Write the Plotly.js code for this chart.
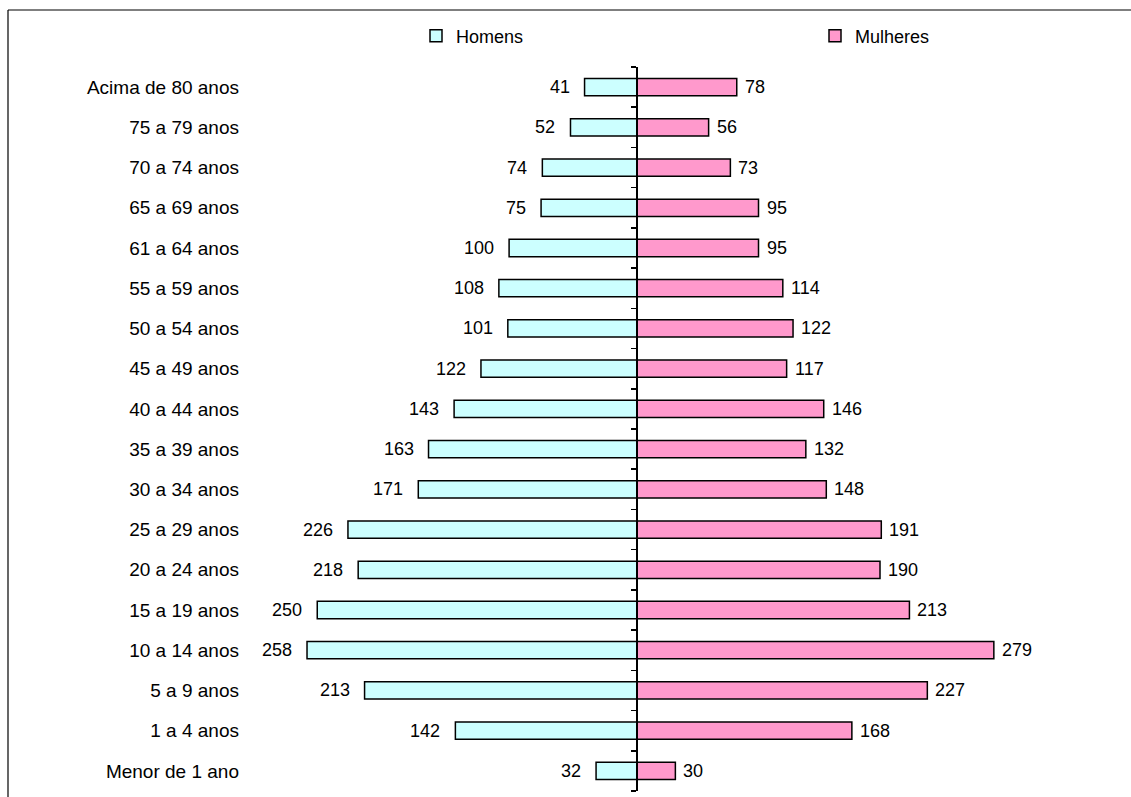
<!DOCTYPE html>
<html>
<head>
<meta charset="utf-8">
<script src="https://cdn.plot.ly/plotly-3.0.1.min.js"></script>
<style>
  html, body { margin: 0; padding: 0; background: #fff; }
  #chart { width: 1131px; height: 797px; }
</style>
</head>
<body>
<div id="chart"></div>
<script>
// ---- data (top to bottom as shown) ----
const categories = [
  "Acima de 80 anos", "75 a 79 anos", "70 a 74 anos", "65 a 69 anos",
  "61 a 64 anos", "55 a 59 anos", "50 a 54 anos", "45 a 49 anos",
  "40 a 44 anos", "35 a 39 anos", "30 a 34 anos", "25 a 29 anos",
  "20 a 24 anos", "15 a 19 anos", "10 a 14 anos", "5 a 9 anos",
  "1 a 4 anos", "Menor de 1 ano"
];
const homens   = [41, 52, 74, 75, 100, 108, 101, 122, 143, 163, 171, 226, 218, 250, 258, 213, 142, 32];
const mulheres = [78, 56, 73, 95, 95, 114, 122, 117, 146, 132, 148, 191, 190, 213, 279, 227, 168, 30];
const seriesNames = ["Homens", "Mulheres"];

// ---- layout geometry (pixels) ----
const W = 1131, H = 797;
const mL = 244, mR = 11, mT = 67, mB = 6;
const plotW = W - mL - mR, plotH = H - mT - mB;
const centerPx = 637, pxPerUnit = 1.279;
const xMin = -(centerPx - mL) / pxPerUnit;
const xMax = (W - mR - centerPx) / pxPerUnit;
const px2paperX = p => (p - mL) / plotW;
const px2paperY = p => (H - mB - p) / plotH;

const fontFam = "Liberation Sans, Arial, sans-serif";

const traces = [
  {
    type: "bar", orientation: "h", name: seriesNames[0], legend: "legend",
    y: categories, x: homens.map(v => -v),
    width: 0.43,
    marker: { color: "#CCFFFF", line: { color: "#000", width: 1.5 } },
    hoverinfo: "skip"
  },
  {
    type: "bar", orientation: "h", name: seriesNames[1], legend: "legend2",
    y: categories, x: mulheres,
    width: 0.43,
    marker: { color: "#FF99CC", line: { color: "#000", width: 1.5 } },
    hoverinfo: "skip"
  },
  { type: "scatter", x: [], y: [], yaxis: "y2", showlegend: false, hoverinfo: "skip" }
];

const annotations = [];
categories.forEach((c, i) => {
  annotations.push({
    x: -homens[i], y: c, xref: "x", yref: "y", text: String(homens[i]),
    xanchor: "right", xshift: -13, showarrow: false,
    font: { family: fontFam, size: 18, color: "#000" }
  });
  annotations.push({
    x: mulheres[i], y: c, xref: "x", yref: "y", text: String(mulheres[i]),
    xanchor: "left", xshift: 6, showarrow: false,
    font: { family: fontFam, size: 18, color: "#000" }
  });
});

const tickBounds = [];
for (let k = 0; k <= categories.length; k++) tickBounds.push(k - 0.5);

const legendBase = {
  orientation: "h", xanchor: "left", yanchor: "middle", y: px2paperY(36),
  font: { family: fontFam, size: 18, color: "#000" },
  bgcolor: "rgba(0,0,0,0)", borderwidth: 0
};

const layout = {
  width: W, height: H,
  margin: { l: mL, r: mR, t: mT, b: mB },
  paper_bgcolor: "#fff", plot_bgcolor: "#fff",
  barmode: "overlay",
  font: { family: fontFam, size: 18, color: "#000" },
  xaxis: {
    range: [xMin, xMax], visible: false, fixedrange: true
  },
  yaxis: {
    type: "category", range: [categories.length - 0.5, -0.5],
    showline: false, showgrid: false, zeroline: false, ticks: "",
    ticklabelstandoff: 4,
    tickfont: { family: fontFam, size: 19, color: "#000" },
    fixedrange: true
  },
  yaxis2: {
    overlaying: "y", anchor: "free", position: px2paperX(centerPx), side: "left",
    range: [categories.length - 0.5, -0.5],
    showline: true, linecolor: "#000", linewidth: 2,
    ticks: "outside", ticklen: 5, tickwidth: 1.5, tickcolor: "#000",
    tickmode: "array", tickvals: tickBounds, showticklabels: false,
    showgrid: false, zeroline: false, fixedrange: true
  },
  showlegend: true,
  legend: Object.assign({}, legendBase, { x: px2paperX(416) }),
  legend2: Object.assign({}, legendBase, { x: px2paperX(815) }),
  annotations: annotations,
  shapes: [
    { type: "line", xref: "paper", yref: "paper",
      x0: px2paperX(8), x1: px2paperX(8), y0: px2paperY(H + 5), y1: px2paperY(10),
      line: { color: "#000", width: 1.2 } },
    { type: "line", xref: "paper", yref: "paper",
      x0: px2paperX(8), x1: px2paperX(W + 5), y0: px2paperY(10), y1: px2paperY(10),
      line: { color: "#000", width: 1.2 } }
  ]
};

Plotly.newPlot("chart", traces, layout, { displayModeBar: false, staticPlot: true });
</script>
</body>
</html>
